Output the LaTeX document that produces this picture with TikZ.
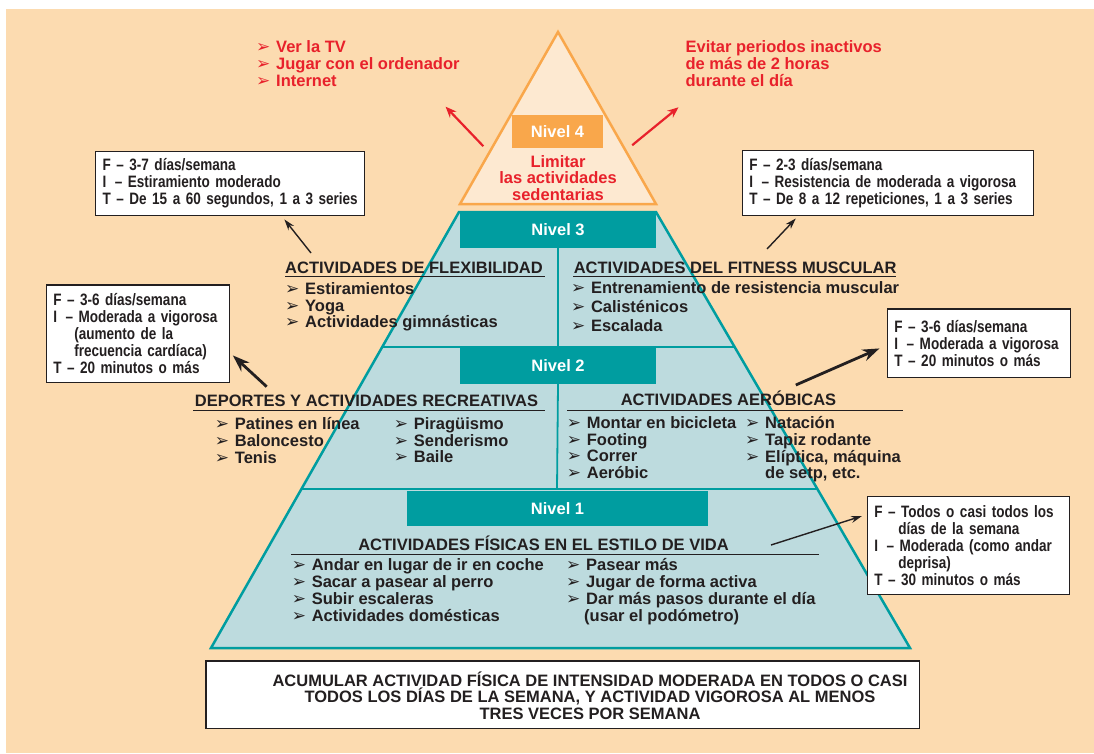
\documentclass[tikz,border=0pt]{standalone}
\usepackage{fontspec}
\setmainfont{Liberation Sans}
\newfontfamily\dingfont{DejaVu Sans}
\newfontfamily\narrowfont[FakeStretch=0.82]{Liberation Sans}
\usepackage{xcolor}
\usetikzlibrary{arrows.meta, positioning, calc}

\definecolor{peach}{RGB}{252,219,176}
\definecolor{lightpeach}{RGB}{253,233,209}
\definecolor{nivelorange}{RGB}{249,167,75}
\definecolor{alertred}{RGB}{232,33,43}
\definecolor{pyrteal}{RGB}{0,157,160}
\definecolor{paleteal}{RGB}{189,219,222}
\definecolor{ink}{RGB}{35,31,32}

\newcommand{\itm}[1]{\makebox[20pt][l]{\dingfont\fontsize{17}{17}\selectfont ➢}#1}

\begin{document}
\begin{tikzpicture}[x=1pt, y=-1pt,
  txt/.style={font=\bfseries\fontsize{16.5}{16.7}\selectfont, text=ink, inner sep=0pt, align=left, anchor=north west},
  redtxt/.style={txt, text=alertred},
  headtxt/.style={txt, anchor=base west},
  nivel/.style={fill=pyrteal, text=white, font=\bfseries\fontsize{16.5}{17}\selectfont, inner sep=0pt},
  fitbox/.style={draw=ink, line width=1.3pt, fill=white, inner xsep=7pt, inner ysep=0pt, align=left, anchor=north west, text=ink, font=\narrowfont\bfseries\fontsize{16.5}{17}\selectfont},
  redarrow/.style={-{Stealth[length=11pt, width=9pt]}, draw=alertred, line width=2.2pt},
  arrowline/.style={-{Stealth[length=11pt, width=7pt]}, draw=ink, line width=1.4pt},
  thickarrow/.style={-{Stealth[length=17pt, width=12pt]}, draw=ink, line width=2.8pt}]
\useasboundingbox (0,0) rectangle (1094,753);
\fill[peach] (6,9) rectangle (1094,753);

% Level 4
\draw[draw=nivelorange, fill=lightpeach, line width=2.5pt] (558,32) -- (656,204) -- (460,204) -- cycle;
\node[nivel, fill=nivelorange, minimum width=91pt, minimum height=33pt] (nivel4) at (557.5,131.5) {Nivel 4};
\node[redtxt, align=center, anchor=north] (limit) at (558,155) {Limitar\\las actividades\\sedentarias};
\node[redtxt] (screens) at (256,40.7) {\itm{Ver la TV}\\\itm{Jugar con el ordenador}\\\itm{Internet}};
\node[redtxt] (idle) at (685.4,40.7) {Evitar periodos inactivos\\de más de 2 horas\\durante el día};

% Levels 1-3
\fill[paleteal] (459,212) -- (656,212) -- (910,648) -- (211,648) -- cycle;
\begin{scope}
  \clip (459,212) -- (656,212) -- (910,648) -- (211,648) -- cycle;
  \draw[pyrteal, line width=2pt] (0,347) -- (1094,347) (0,489) -- (1094,489);
\end{scope}
\draw[pyrteal, line width=2.5pt] (459,212) -- (656,212) -- (910,648) -- (211,648) -- cycle;
\node[nivel, minimum width=196pt, minimum height=36pt] (nivel3) at (558,230) {Nivel 3};
\node[nivel, minimum width=196pt, minimum height=36pt] (nivel2) at (558,366) {Nivel 2};
\node[nivel, minimum width=301pt, minimum height=35pt] (nivel1) at (557.5,508.5) {Nivel 1};
\draw[pyrteal, line width=1.8pt] (nivel3.south) -- ++(0,99) (nivel2.south) -- ++(-1,105);

% Level 3
\node[headtxt] (flexhead) at (285,273.5) {ACTIVIDADES DE FLEXIBILIDAD};
\draw[ink, line width=1pt] (285,276) -- (545,276);
\node[txt] (flexlist) at (285,282.3) {\itm{Estiramientos}\\\itm{Yoga}\\\itm{Actividades gimnásticas}};
\node[headtxt] (musclehead) at (573.6,273.5) {ACTIVIDADES DEL FITNESS MUSCULAR};
\draw[ink, line width=1pt] (573,276) -- (896,276);
\node[txt, font=\bfseries\fontsize{16.5}{18.9}\selectfont] (musclelist) at (570.8,281.3) {\itm{Entrenamiento de resistencia muscular}\\\itm{Calisténicos}\\\itm{Escalada}};

% Level 2
\node[headtxt] (sporthead) at (194.7,406.5) {DEPORTES Y ACTIVIDADES RECREATIVAS};
\draw[ink, line width=1pt] (193,410) -- (545,410);
\node[txt] (sportlist) at (214.7,417.3) {\itm{Patines en línea}\\\itm{Baloncesto}\\\itm{Tenis}};
\node[txt] (sportlist2) at (393.7,417.3) {\itm{Piragüismo}\\\itm{Senderismo}\\\itm{Baile}};
\node[headtxt, anchor=base] (aerohead) at (728.5,405) {ACTIVIDADES AERÓBICAS};
\draw[ink, line width=1pt] (567,410) -- (903,410);
\node[txt] (aerolist) at (566.7,416.3) {\itm{Montar en bicicleta}\\\itm{Footing}\\\itm{Correr}\\\itm{Aeróbic}};
\node[txt] (aerolist2) at (745,416.3) {\itm{Natación}\\\itm{Tapiz rodante}\\\itm{Elíptica, máquina}\\\hspace*{20pt}de setp, etc.};

% Level 1
\node[headtxt, anchor=base] (lifehead) at (543.5,550) {ACTIVIDADES FÍSICAS EN EL ESTILO DE VIDA};
\draw[ink, line width=1pt] (291,554) -- (819,554);
\node[txt, font=\bfseries\fontsize{16.5}{17.1}\selectfont] (lifelist) at (291.6,558.3) {\itm{Andar en lugar de ir en coche}\\\itm{Sacar a pasear al perro}\\\itm{Subir escaleras}\\\itm{Actividades domésticas}};
\node[txt, font=\bfseries\fontsize{16.5}{17.1}\selectfont] (lifelist2) at (566,558.3) {\itm{Pasear más}\\\itm{Jugar de forma activa}\\\itm{Dar más pasos durante el día}\\\hspace*{18pt}(usar el podómetro)};

% FIT boxes
\node[fitbox, text width=254.5pt, minimum height=64pt] (flexbox) at (95,151) {F – 3-7 días/semana\\I\hspace{3pt} – Estiramiento moderado\\\mbox{T – De 15 a 60 segundos, 1 a 3 series}};
\node[fitbox, text width=277pt, minimum height=65pt] (musclebox) at (741.7,150) {F – 2-3 días/semana\\\mbox{I\hspace{3pt} – Resistencia de moderada a vigorosa}\\\mbox{T – De 8 a 12 repeticiones, 1 a 3 series}};
\node[fitbox, text width=169pt, minimum height=97.5pt] (sportbox) at (45.6,284.3) {F – 3-6 días/semana\\\mbox{I\hspace{3pt} – Moderada a vigorosa}\\\hspace*{21pt}(aumento de la\\\hspace*{21pt}frecuencia cardíaca)\\T – 20 minutos o más};
\node[fitbox, text width=169pt, minimum height=68.5pt] (aerobox) at (886.8,308.3) {F – 3-6 días/semana\\\mbox{I\hspace{3pt} – Moderada a vigorosa}\\T – 20 minutos o más};
\node[fitbox, text width=188.3pt, minimum height=98.3pt] (lifebox) at (866.7,495.7) {\mbox{F – Todos o casi todos los}\\\hspace*{24pt}días de la semana\\\mbox{I\hspace{3pt} – Moderada (como andar}\\\hspace*{24pt}deprisa)\\T – 30 minutos o más};

% Summary
\node[draw=ink, line width=1.3pt, fill=white, anchor=north west, minimum width=713.7pt, minimum height=67.4pt] (summary) at (205.3,660.3) {};
\node[txt, align=center, anchor=center] (summarytext) at (590,695.7) {ACUMULAR ACTIVIDAD FÍSICA DE INTENSIDAD MODERADA EN TODOS O CASI\\TODOS LOS DÍAS DE LA SEMANA, Y ACTIVIDAD VIGOROSA AL MENOS\\TRES VECES POR SEMANA};

% Arrows
\coordinate (screenhead) at (445.6,106.7);
\coordinate (idlehead) at (678.5,107.3);
\draw[redarrow] ([xshift=-28.5pt, yshift=2pt]nivel4.south west) -- (screenhead);
\draw[redarrow] ([xshift=29pt, yshift=3pt]nivel4.south east) -- (idlehead);
\coordinate (flexfoot) at (311,253);
\coordinate (musclefoot) at (767,249);
\coordinate (sportfoot) at (266.7,386.7);
\coordinate (aerofoot) at (795.8,385);
\coordinate (lifefoot) at (771,545);
\draw[arrowline, shorten >=4pt] (flexfoot) -- ([xshift=52pt]flexbox.south);
\draw[arrowline, shorten >=3pt] (musclefoot) -- ([xshift=-90pt]musclebox.south);
\draw[thickarrow, shorten >=4pt] (sportfoot) -- ([yshift=-19pt]sportbox.east);
\draw[thickarrow, shorten >=8pt] (aerofoot) -- ([yshift=-2pt]aerobox.west);
\draw[arrowline, shorten >=5pt] (lifefoot) -- ([yshift=31pt]lifebox.west);
\end{tikzpicture}
\end{document}
